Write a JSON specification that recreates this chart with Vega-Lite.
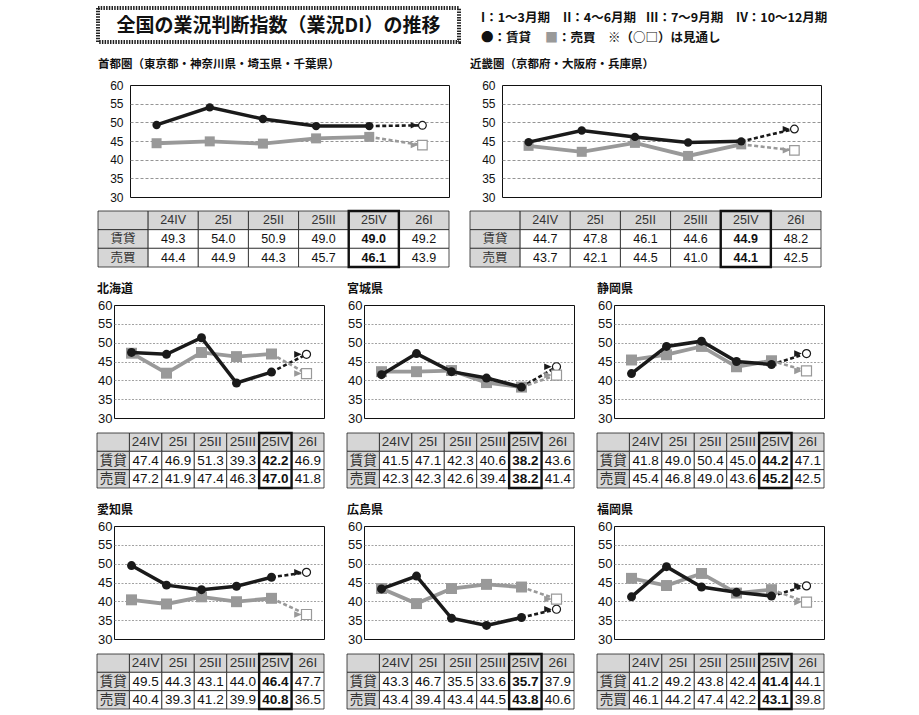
{
"$schema":"https://vega.github.io/schema/vega-lite/v6.json",
"background":"white",
"padding":{"left":60,"top":6,"right":5,"bottom":2},
"config":{"view":{"stroke":"#111","strokeWidth":1},"font":"Noto Sans CJK JP"},
"datasets":{
"d":[
{"r":"首都圏","t":"賃貸","p":"24IV","v":49.3},{"r":"首都圏","t":"賃貸","p":"25I","v":54.0},{"r":"首都圏","t":"賃貸","p":"25II","v":50.9},{"r":"首都圏","t":"賃貸","p":"25III","v":49.0},{"r":"首都圏","t":"賃貸","p":"25IV","v":49.0},{"r":"首都圏","t":"賃貸","p":"26I","v":49.2},
{"r":"首都圏","t":"売買","p":"24IV","v":44.4},{"r":"首都圏","t":"売買","p":"25I","v":44.9},{"r":"首都圏","t":"売買","p":"25II","v":44.3},{"r":"首都圏","t":"売買","p":"25III","v":45.7},{"r":"首都圏","t":"売買","p":"25IV","v":46.1},{"r":"首都圏","t":"売買","p":"26I","v":43.9},
{"r":"近畿圏","t":"賃貸","p":"24IV","v":44.7},{"r":"近畿圏","t":"賃貸","p":"25I","v":47.8},{"r":"近畿圏","t":"賃貸","p":"25II","v":46.1},{"r":"近畿圏","t":"賃貸","p":"25III","v":44.6},{"r":"近畿圏","t":"賃貸","p":"25IV","v":44.9},{"r":"近畿圏","t":"賃貸","p":"26I","v":48.2},
{"r":"近畿圏","t":"売買","p":"24IV","v":43.7},{"r":"近畿圏","t":"売買","p":"25I","v":42.1},{"r":"近畿圏","t":"売買","p":"25II","v":44.5},{"r":"近畿圏","t":"売買","p":"25III","v":41.0},{"r":"近畿圏","t":"売買","p":"25IV","v":44.1},{"r":"近畿圏","t":"売買","p":"26I","v":42.5},
{"r":"北海道","t":"賃貸","p":"24IV","v":47.4},{"r":"北海道","t":"賃貸","p":"25I","v":46.9},{"r":"北海道","t":"賃貸","p":"25II","v":51.3},{"r":"北海道","t":"賃貸","p":"25III","v":39.3},{"r":"北海道","t":"賃貸","p":"25IV","v":42.2},{"r":"北海道","t":"賃貸","p":"26I","v":46.9},
{"r":"北海道","t":"売買","p":"24IV","v":47.2},{"r":"北海道","t":"売買","p":"25I","v":41.9},{"r":"北海道","t":"売買","p":"25II","v":47.4},{"r":"北海道","t":"売買","p":"25III","v":46.3},{"r":"北海道","t":"売買","p":"25IV","v":47.0},{"r":"北海道","t":"売買","p":"26I","v":41.8},
{"r":"宮城県","t":"賃貸","p":"24IV","v":41.5},{"r":"宮城県","t":"賃貸","p":"25I","v":47.1},{"r":"宮城県","t":"賃貸","p":"25II","v":42.3},{"r":"宮城県","t":"賃貸","p":"25III","v":40.6},{"r":"宮城県","t":"賃貸","p":"25IV","v":38.2},{"r":"宮城県","t":"賃貸","p":"26I","v":43.6},
{"r":"宮城県","t":"売買","p":"24IV","v":42.3},{"r":"宮城県","t":"売買","p":"25I","v":42.3},{"r":"宮城県","t":"売買","p":"25II","v":42.6},{"r":"宮城県","t":"売買","p":"25III","v":39.4},{"r":"宮城県","t":"売買","p":"25IV","v":38.2},{"r":"宮城県","t":"売買","p":"26I","v":41.4},
{"r":"静岡県","t":"賃貸","p":"24IV","v":41.8},{"r":"静岡県","t":"賃貸","p":"25I","v":49.0},{"r":"静岡県","t":"賃貸","p":"25II","v":50.4},{"r":"静岡県","t":"賃貸","p":"25III","v":45.0},{"r":"静岡県","t":"賃貸","p":"25IV","v":44.2},{"r":"静岡県","t":"賃貸","p":"26I","v":47.1},
{"r":"静岡県","t":"売買","p":"24IV","v":45.4},{"r":"静岡県","t":"売買","p":"25I","v":46.8},{"r":"静岡県","t":"売買","p":"25II","v":49.0},{"r":"静岡県","t":"売買","p":"25III","v":43.6},{"r":"静岡県","t":"売買","p":"25IV","v":45.2},{"r":"静岡県","t":"売買","p":"26I","v":42.5},
{"r":"愛知県","t":"賃貸","p":"24IV","v":49.5},{"r":"愛知県","t":"賃貸","p":"25I","v":44.3},{"r":"愛知県","t":"賃貸","p":"25II","v":43.1},{"r":"愛知県","t":"賃貸","p":"25III","v":44.0},{"r":"愛知県","t":"賃貸","p":"25IV","v":46.4},{"r":"愛知県","t":"賃貸","p":"26I","v":47.7},
{"r":"愛知県","t":"売買","p":"24IV","v":40.4},{"r":"愛知県","t":"売買","p":"25I","v":39.3},{"r":"愛知県","t":"売買","p":"25II","v":41.2},{"r":"愛知県","t":"売買","p":"25III","v":39.9},{"r":"愛知県","t":"売買","p":"25IV","v":40.8},{"r":"愛知県","t":"売買","p":"26I","v":36.5},
{"r":"広島県","t":"賃貸","p":"24IV","v":43.3},{"r":"広島県","t":"賃貸","p":"25I","v":46.7},{"r":"広島県","t":"賃貸","p":"25II","v":35.5},{"r":"広島県","t":"賃貸","p":"25III","v":33.6},{"r":"広島県","t":"賃貸","p":"25IV","v":35.7},{"r":"広島県","t":"賃貸","p":"26I","v":37.9},
{"r":"広島県","t":"売買","p":"24IV","v":43.4},{"r":"広島県","t":"売買","p":"25I","v":39.4},{"r":"広島県","t":"売買","p":"25II","v":43.4},{"r":"広島県","t":"売買","p":"25III","v":44.5},{"r":"広島県","t":"売買","p":"25IV","v":43.8},{"r":"広島県","t":"売買","p":"26I","v":40.6},
{"r":"福岡県","t":"賃貸","p":"24IV","v":41.2},{"r":"福岡県","t":"賃貸","p":"25I","v":49.2},{"r":"福岡県","t":"賃貸","p":"25II","v":43.8},{"r":"福岡県","t":"賃貸","p":"25III","v":42.4},{"r":"福岡県","t":"賃貸","p":"25IV","v":41.4},{"r":"福岡県","t":"賃貸","p":"26I","v":44.1},
{"r":"福岡県","t":"売買","p":"24IV","v":46.1},{"r":"福岡県","t":"売買","p":"25I","v":44.2},{"r":"福岡県","t":"売買","p":"25II","v":47.4},{"r":"福岡県","t":"売買","p":"25III","v":42.2},{"r":"福岡県","t":"売買","p":"25IV","v":43.1},{"r":"福岡県","t":"売買","p":"26I","v":39.8}
],
"h":[{"c":"h","w":"h","lab":""},{"c":"24IV","w":"h","lab":"24IV"},{"c":"25I","w":"h","lab":"25I"},{"c":"25II","w":"h","lab":"25II"},{"c":"25III","w":"h","lab":"25III"},{"c":"25IV","w":"h","lab":"25IV"},{"c":"26I","w":"h","lab":"26I"},{"c":"h","w":"賃貸","lab":"賃貸"},{"c":"h","w":"売買","lab":"売買"}],
"e":[]
},
"spacing":10,
"vconcat":[
{"spacing":35,"hconcat":[
 {"width":1,"height":1,"view":{"stroke":null},"data":{"name":"e"},"mark":{"type":"point","opacity":0}},
 {"spacing":20,"hconcat":[
 {"width":361,"height":34,"view":{"stroke":"#222","strokeWidth":4,"strokeDash":[1.5,1.2]},
  "data":{"values":[{"s":"全国の業況判断指数（業況DI）の推移"}]},
  "mark":{"type":"text","font":"Noto Sans CJK JP","fontSize":19,"fontWeight":"bold","color":"#111","baseline":"middle","dy":1},
  "encoding":{"text":{"field":"s"}}},
 {"width":350,"height":40,"view":{"stroke":null},
  "data":{"values":[{"k":"p1","ln":1,"s":"I：1～3月期"},{"k":"p2","ln":1,"s":"II：4～6月期"},{"k":"p3","ln":1,"s":"III：7～9月期"},{"k":"p4","ln":1,"s":"IV：10～12月期"},{"k":"a","ln":2,"s":"●：賃貸"},{"k":"b","ln":2,"s":"■"},{"k":"c","ln":2,"s":"：売買　※（○□）は見通し"}]},
  "encoding":{"y":{"field":"ln","type":"ordinal","scale":{"type":"band","domain":[1,2],"paddingInner":0,"paddingOuter":0},"axis":null},"text":{"field":"s"}},
  "layer":[
   {"transform":[{"filter":{"field":"k","oneOf":["p1","a"]}}],"mark":{"type":"text","align":"left","x":0,"dx":0,"font":"Noto Sans CJK JP","fontSize":12.5,"fontWeight":"bold","color":"#111"}},
   {"transform":[{"filter":{"field":"k","equal":"p2"}}],"mark":{"type":"text","align":"left","x":0,"dx":82,"font":"Noto Sans CJK JP","fontSize":12.5,"fontWeight":"bold","color":"#111"}},
   {"transform":[{"filter":{"field":"k","equal":"p3"}}],"mark":{"type":"text","align":"left","x":0,"dx":165,"font":"Noto Sans CJK JP","fontSize":12.5,"fontWeight":"bold","color":"#111"}},
   {"transform":[{"filter":{"field":"k","equal":"p4"}}],"mark":{"type":"text","align":"left","x":0,"dx":255,"font":"Noto Sans CJK JP","fontSize":12.5,"fontWeight":"bold","color":"#111"}},
   {"transform":[{"filter":{"field":"k","equal":"b"}}],"mark":{"type":"text","align":"left","x":0,"dx":64,"font":"Noto Sans CJK JP","fontSize":13,"fontWeight":"bold","color":"#999999"}},
   {"transform":[{"filter":{"field":"k","equal":"c"}}],"mark":{"type":"text","align":"left","x":0,"dx":77,"font":"Noto Sans CJK JP","fontSize":12.5,"fontWeight":"bold","color":"#111"}}
  ]}
 ]}
]},
{"spacing":13,"vconcat":[
{"spacing":36,"hconcat":[
 {"width":1,"height":1,"view":{"stroke":null},"data":{"name":"e"},"mark":{"type":"point","opacity":0}},
 {"spacing":19,"hconcat":[
 {"spacing":5,"vconcat":[
  {"title":{"text":"首都圏（東京都・神奈川県・埼玉県・千葉県）","anchor":"start","font":"Noto Sans CJK JP","fontSize":11.5,"fontWeight":"bold","color":"#111","offset":9},
   "width":319,"height":112,"data":{"name":"d"},"transform":[{"filter":{"field":"r","equal":"首都圏"}}],
   "encoding":{"x":{"field":"p","type":"ordinal","scale":{"type":"point","domain":["24IV","25I","25II","25III","25IV","26I"],"padding":0.5},"axis":null},
    "y":{"field":"v","type":"quantitative","scale":{"domain":[30,60],"nice":false,"zero":false},"axis":{"values":[30,35,40,45,50,55,60],"grid":true,"gridColor":"#7a7a7a","gridDash":[3,2],"gridWidth":0.8,"gridOpacity":{"condition":{"test":"datum.value===30||datum.value===60","value":0},"value":1},"domain":false,"ticks":false,"labelPadding":7,"labelFontSize":12,"labelFont":"Liberation Sans","labelColor":"#111","labelOverlap":false,"labelFlush":false,"minExtent":32,"maxExtent":32,"title":null}},
    "color":{"field":"t","type":"nominal","scale":{"domain":["賃貸","売買"],"range":["#1a1a1a","#999999"]},"legend":null}},
   "layer":[
    {"transform":[{"filter":{"field":"p","oneOf":["25IV","26I"]}}],"mark":{"type":"line","strokeWidth":2.6,"strokeDash":[4,2.5]}},
    {"transform":[{"filter":{"and":[{"field":"p","equal":"26I"},{"field":"t","equal":"賃貸"}]}}],"mark":{"type":"point","shape":"circle","size":60,"filled":false,"fill":"white","opacity":1,"strokeWidth":1.2}},
    {"transform":[{"filter":{"and":[{"field":"p","equal":"26I"},{"field":"t","equal":"売買"}]}}],"mark":{"type":"point","shape":"square","size":90,"filled":false,"fill":"white","opacity":1,"strokeWidth":1.2}},
    {"transform":[{"filter":{"field":"p","equal":"26I"}}],"mark":{"type":"point","shape":"M-1,0L-2.6,-0.7L-2.6,0.7Z","size":81,"filled":true,"opacity":1}},
    {"transform":[{"filter":{"and":[{"field":"t","equal":"売買"},{"field":"p","oneOf":["24IV","25I","25II","25III","25IV"]}]}}],"mark":{"type":"line","strokeWidth":3.8}},
    {"transform":[{"filter":{"and":[{"field":"t","equal":"売買"},{"field":"p","oneOf":["24IV","25I","25II","25III","25IV"]}]}}],"mark":{"type":"point","shape":"square","size":100,"filled":true,"opacity":1}},
    {"transform":[{"filter":{"and":[{"field":"t","equal":"賃貸"},{"field":"p","oneOf":["24IV","25I","25II","25III","25IV"]}]}}],"mark":{"type":"line","strokeWidth":3.5}},
    {"transform":[{"filter":{"and":[{"field":"t","equal":"賃貸"},{"field":"p","oneOf":["24IV","25I","25II","25III","25IV"]}]}}],"mark":{"type":"point","shape":"circle","size":70,"filled":true,"opacity":1}}
   ]},
  {"width":319,"height":56,"view":{"stroke":null},
   "layer":[
    {"data":{"name":"h"},"mark":{"type":"rect","fill":"#d6d6d6","stroke":"#222","strokeWidth":0.8},"encoding":{"x":{"field":"c","type":"nominal","scale":{"type":"band","domain":["h","24IV","25I","25II","25III","25IV","26I"],"range":[-32,319],"paddingInner":0,"paddingOuter":0},"axis":null},"y":{"field":"w","type":"nominal","scale":{"type":"band","domain":["h","賃貸","売買"],"paddingInner":0,"paddingOuter":0},"axis":null}}},
    {"data":{"name":"h"},"mark":{"type":"text","font":"'Liberation Sans', 'Noto Sans CJK JP', sans-serif","fontSize":12.5,"color":"#333"},"encoding":{"x":{"field":"c","type":"nominal","axis":null},"y":{"field":"w","type":"nominal","axis":null},"text":{"field":"lab"}}},
    {"data":{"name":"d"},"transform":[{"filter":{"field":"r","equal":"首都圏"}}],"mark":{"type":"rect","fill":"white","stroke":"#222","strokeWidth":0.8},"encoding":{"x":{"field":"p","type":"nominal","axis":null},"y":{"field":"t","type":"nominal","axis":null}}},
    {"data":{"name":"d"},"transform":[{"filter":{"and":[{"field":"r","equal":"首都圏"},{"not":{"field":"p","equal":"25IV"}}]}}],"mark":{"type":"text","font":"Liberation Sans","fontSize":12.5,"color":"#111"},"encoding":{"x":{"field":"p","type":"nominal","axis":null},"y":{"field":"t","type":"nominal","axis":null},"text":{"field":"v","type":"quantitative","format":".1f"}}},
    {"data":{"name":"d"},"transform":[{"filter":{"and":[{"field":"r","equal":"首都圏"},{"field":"p","equal":"25IV"}]}}],"mark":{"type":"text","font":"Liberation Sans","fontSize":12.5,"fontWeight":"bold","color":"#111"},"encoding":{"x":{"field":"p","type":"nominal","axis":null},"y":{"field":"t","type":"nominal","axis":null},"text":{"field":"v","type":"quantitative","format":".1f"}}},
    {"data":{"name":"h"},"transform":[{"filter":{"field":"c","equal":"25IV"}}],"mark":{"type":"rect","fill":"white","fillOpacity":0,"stroke":"#111","strokeWidth":2.4},"encoding":{"x":{"field":"c","type":"nominal","axis":null}}}
   ]}
 ]},
 {"spacing":5,"vconcat":[
  {"title":{"text":"近畿圏（京都府・大阪府・兵庫県）","anchor":"start","font":"Noto Sans CJK JP","fontSize":11.5,"fontWeight":"bold","color":"#111","offset":9},
   "width":319,"height":112,"data":{"name":"d"},"transform":[{"filter":{"field":"r","equal":"近畿圏"}}],
   "encoding":{"x":{"field":"p","type":"ordinal","scale":{"type":"point","domain":["24IV","25I","25II","25III","25IV","26I"],"padding":0.5},"axis":null},
    "y":{"field":"v","type":"quantitative","scale":{"domain":[30,60],"nice":false,"zero":false},"axis":{"values":[30,35,40,45,50,55,60],"grid":true,"gridColor":"#7a7a7a","gridDash":[3,2],"gridWidth":0.8,"gridOpacity":{"condition":{"test":"datum.value===30||datum.value===60","value":0},"value":1},"domain":false,"ticks":false,"labelPadding":7,"labelFontSize":12,"labelFont":"Liberation Sans","labelColor":"#111","labelOverlap":false,"labelFlush":false,"minExtent":32,"maxExtent":32,"title":null}},
    "color":{"field":"t","type":"nominal","scale":{"domain":["賃貸","売買"],"range":["#1a1a1a","#999999"]},"legend":null}},
   "layer":[
    {"transform":[{"filter":{"field":"p","oneOf":["25IV","26I"]}}],"mark":{"type":"line","strokeWidth":2.6,"strokeDash":[4,2.5]}},
    {"transform":[{"filter":{"and":[{"field":"p","equal":"26I"},{"field":"t","equal":"賃貸"}]}}],"mark":{"type":"point","shape":"circle","size":60,"filled":false,"fill":"white","opacity":1,"strokeWidth":1.2}},
    {"transform":[{"filter":{"and":[{"field":"p","equal":"26I"},{"field":"t","equal":"売買"}]}}],"mark":{"type":"point","shape":"square","size":90,"filled":false,"fill":"white","opacity":1,"strokeWidth":1.2}},
    {"transform":[{"filter":{"field":"p","equal":"26I"}}],"mark":{"type":"point","shape":"M-1,0L-2.6,-0.7L-2.6,0.7Z","size":81,"filled":true,"opacity":1}},
    {"transform":[{"filter":{"and":[{"field":"t","equal":"売買"},{"field":"p","oneOf":["24IV","25I","25II","25III","25IV"]}]}}],"mark":{"type":"line","strokeWidth":3.8}},
    {"transform":[{"filter":{"and":[{"field":"t","equal":"売買"},{"field":"p","oneOf":["24IV","25I","25II","25III","25IV"]}]}}],"mark":{"type":"point","shape":"square","size":100,"filled":true,"opacity":1}},
    {"transform":[{"filter":{"and":[{"field":"t","equal":"賃貸"},{"field":"p","oneOf":["24IV","25I","25II","25III","25IV"]}]}}],"mark":{"type":"line","strokeWidth":3.5}},
    {"transform":[{"filter":{"and":[{"field":"t","equal":"賃貸"},{"field":"p","oneOf":["24IV","25I","25II","25III","25IV"]}]}}],"mark":{"type":"point","shape":"circle","size":70,"filled":true,"opacity":1}}
   ]},
  {"width":319,"height":56,"view":{"stroke":null},
   "layer":[
    {"data":{"name":"h"},"mark":{"type":"rect","fill":"#d6d6d6","stroke":"#222","strokeWidth":0.8},"encoding":{"x":{"field":"c","type":"nominal","scale":{"type":"band","domain":["h","24IV","25I","25II","25III","25IV","26I"],"range":[-32,319],"paddingInner":0,"paddingOuter":0},"axis":null},"y":{"field":"w","type":"nominal","scale":{"type":"band","domain":["h","賃貸","売買"],"paddingInner":0,"paddingOuter":0},"axis":null}}},
    {"data":{"name":"h"},"mark":{"type":"text","font":"'Liberation Sans', 'Noto Sans CJK JP', sans-serif","fontSize":12.5,"color":"#333"},"encoding":{"x":{"field":"c","type":"nominal","axis":null},"y":{"field":"w","type":"nominal","axis":null},"text":{"field":"lab"}}},
    {"data":{"name":"d"},"transform":[{"filter":{"field":"r","equal":"近畿圏"}}],"mark":{"type":"rect","fill":"white","stroke":"#222","strokeWidth":0.8},"encoding":{"x":{"field":"p","type":"nominal","axis":null},"y":{"field":"t","type":"nominal","axis":null}}},
    {"data":{"name":"d"},"transform":[{"filter":{"and":[{"field":"r","equal":"近畿圏"},{"not":{"field":"p","equal":"25IV"}}]}}],"mark":{"type":"text","font":"Liberation Sans","fontSize":12.5,"color":"#111"},"encoding":{"x":{"field":"p","type":"nominal","axis":null},"y":{"field":"t","type":"nominal","axis":null},"text":{"field":"v","type":"quantitative","format":".1f"}}},
    {"data":{"name":"d"},"transform":[{"filter":{"and":[{"field":"r","equal":"近畿圏"},{"field":"p","equal":"25IV"}]}}],"mark":{"type":"text","font":"Liberation Sans","fontSize":12.5,"fontWeight":"bold","color":"#111"},"encoding":{"x":{"field":"p","type":"nominal","axis":null},"y":{"field":"t","type":"nominal","axis":null},"text":{"field":"v","type":"quantitative","format":".1f"}}},
    {"data":{"name":"h"},"transform":[{"filter":{"field":"c","equal":"25IV"}}],"mark":{"type":"rect","fill":"white","fillOpacity":0,"stroke":"#111","strokeWidth":2.4},"encoding":{"x":{"field":"c","type":"nominal","axis":null}}}
   ]}
 ]}
 ]}
]},
{"spacing":35,"hconcat":[
 {"width":1,"height":1,"view":{"stroke":null},"data":{"name":"e"},"mark":{"type":"point","opacity":0}},
 {"spacing":21,"hconcat":[
 {"spacing":5,"vconcat":[
  {"title":{"text":"北海道","anchor":"start","font":"Noto Sans CJK JP","fontSize":12,"fontWeight":"bold","color":"#111","offset":3},
   "width":210,"height":113,"data":{"name":"d"},"transform":[{"filter":{"field":"r","equal":"北海道"}}],
   "encoding":{"x":{"field":"p","type":"ordinal","scale":{"type":"point","domain":["24IV","25I","25II","25III","25IV","26I"],"padding":0.5},"axis":null},
    "y":{"field":"v","type":"quantitative","scale":{"domain":[30,60],"nice":false,"zero":false},"axis":{"values":[30,35,40,45,50,55,60],"grid":true,"gridColor":"#8a8a8a","gridDash":[2,1.5],"gridWidth":0.8,"gridOpacity":{"condition":{"test":"datum.value===30||datum.value===60","value":0},"value":1},"domain":false,"ticks":false,"labelPadding":2,"labelFontSize":13,"labelFont":"Liberation Sans","labelColor":"#111","labelOverlap":false,"labelFlush":false,"minExtent":17,"maxExtent":17,"title":null}},
    "color":{"field":"t","type":"nominal","scale":{"domain":["賃貸","売買"],"range":["#1a1a1a","#999999"]},"legend":null}},
   "layer":[
    {"transform":[{"filter":{"field":"p","oneOf":["25IV","26I"]}}],"mark":{"type":"line","strokeWidth":2.6,"strokeDash":[4,2.5]}},
    {"transform":[{"filter":{"and":[{"field":"p","equal":"26I"},{"field":"t","equal":"賃貸"}]}}],"mark":{"type":"point","shape":"circle","size":65,"filled":false,"fill":"white","opacity":1,"strokeWidth":1.2}},
    {"transform":[{"filter":{"and":[{"field":"p","equal":"26I"},{"field":"t","equal":"売買"}]}}],"mark":{"type":"point","shape":"square","size":100,"filled":false,"fill":"white","opacity":1,"strokeWidth":1.2}},
    {"transform":[{"filter":{"field":"p","equal":"26I"}}],"mark":{"type":"point","shape":"M-1,0L-2.6,-0.7L-2.6,0.7Z","size":90,"filled":true,"opacity":1}},
    {"transform":[{"filter":{"and":[{"field":"t","equal":"売買"},{"field":"p","oneOf":["24IV","25I","25II","25III","25IV"]}]}}],"mark":{"type":"line","strokeWidth":3.8}},
    {"transform":[{"filter":{"and":[{"field":"t","equal":"売買"},{"field":"p","oneOf":["24IV","25I","25II","25III","25IV"]}]}}],"mark":{"type":"point","shape":"square","size":120,"filled":true,"opacity":1}},
    {"transform":[{"filter":{"and":[{"field":"t","equal":"賃貸"},{"field":"p","oneOf":["24IV","25I","25II","25III","25IV"]}]}}],"mark":{"type":"line","strokeWidth":3.5}},
    {"transform":[{"filter":{"and":[{"field":"t","equal":"賃貸"},{"field":"p","oneOf":["24IV","25I","25II","25III","25IV"]}]}}],"mark":{"type":"point","shape":"circle","size":80,"filled":true,"opacity":1}}
   ]},
  {"width":210,"height":55,"view":{"stroke":null},
   "layer":[
    {"data":{"name":"h"},"mark":{"type":"rect","fill":"#d6d6d6","stroke":"#222","strokeWidth":0.8},"encoding":{"x":{"field":"c","type":"nominal","scale":{"type":"band","domain":["h","24IV","25I","25II","25III","25IV","26I"],"range":[-17,210],"paddingInner":0,"paddingOuter":0},"axis":null},"y":{"field":"w","type":"nominal","scale":{"type":"band","domain":["h","賃貸","売買"],"paddingInner":0,"paddingOuter":0},"axis":null}}},
    {"data":{"name":"h"},"mark":{"type":"text","font":"'Liberation Sans', 'Noto Sans CJK JP', sans-serif","fontSize":13.5,"color":"#333"},"encoding":{"x":{"field":"c","type":"nominal","axis":null},"y":{"field":"w","type":"nominal","axis":null},"text":{"field":"lab"}}},
    {"data":{"name":"d"},"transform":[{"filter":{"field":"r","equal":"北海道"}}],"mark":{"type":"rect","fill":"white","stroke":"#222","strokeWidth":0.8},"encoding":{"x":{"field":"p","type":"nominal","axis":null},"y":{"field":"t","type":"nominal","axis":null}}},
    {"data":{"name":"d"},"transform":[{"filter":{"and":[{"field":"r","equal":"北海道"},{"not":{"field":"p","equal":"25IV"}}]}}],"mark":{"type":"text","font":"Liberation Sans","fontSize":13.5,"color":"#111"},"encoding":{"x":{"field":"p","type":"nominal","axis":null},"y":{"field":"t","type":"nominal","axis":null},"text":{"field":"v","type":"quantitative","format":".1f"}}},
    {"data":{"name":"d"},"transform":[{"filter":{"and":[{"field":"r","equal":"北海道"},{"field":"p","equal":"25IV"}]}}],"mark":{"type":"text","font":"Liberation Sans","fontSize":13.5,"fontWeight":"bold","color":"#111"},"encoding":{"x":{"field":"p","type":"nominal","axis":null},"y":{"field":"t","type":"nominal","axis":null},"text":{"field":"v","type":"quantitative","format":".1f"}}},
    {"data":{"name":"h"},"transform":[{"filter":{"field":"c","equal":"25IV"}}],"mark":{"type":"rect","fill":"white","fillOpacity":0,"stroke":"#111","strokeWidth":2.4},"encoding":{"x":{"field":"c","type":"nominal","axis":null}}}
   ]}
 ]},
 {"spacing":5,"vconcat":[
  {"title":{"text":"宮城県","anchor":"start","font":"Noto Sans CJK JP","fontSize":12,"fontWeight":"bold","color":"#111","offset":3},
   "width":210,"height":113,"data":{"name":"d"},"transform":[{"filter":{"field":"r","equal":"宮城県"}}],
   "encoding":{"x":{"field":"p","type":"ordinal","scale":{"type":"point","domain":["24IV","25I","25II","25III","25IV","26I"],"padding":0.5},"axis":null},
    "y":{"field":"v","type":"quantitative","scale":{"domain":[30,60],"nice":false,"zero":false},"axis":{"values":[30,35,40,45,50,55,60],"grid":true,"gridColor":"#8a8a8a","gridDash":[2,1.5],"gridWidth":0.8,"gridOpacity":{"condition":{"test":"datum.value===30||datum.value===60","value":0},"value":1},"domain":false,"ticks":false,"labelPadding":2,"labelFontSize":13,"labelFont":"Liberation Sans","labelColor":"#111","labelOverlap":false,"labelFlush":false,"minExtent":17,"maxExtent":17,"title":null}},
    "color":{"field":"t","type":"nominal","scale":{"domain":["賃貸","売買"],"range":["#1a1a1a","#999999"]},"legend":null}},
   "layer":[
    {"transform":[{"filter":{"field":"p","oneOf":["25IV","26I"]}}],"mark":{"type":"line","strokeWidth":2.6,"strokeDash":[4,2.5]}},
    {"transform":[{"filter":{"and":[{"field":"p","equal":"26I"},{"field":"t","equal":"賃貸"}]}}],"mark":{"type":"point","shape":"circle","size":65,"filled":false,"fill":"white","opacity":1,"strokeWidth":1.2}},
    {"transform":[{"filter":{"and":[{"field":"p","equal":"26I"},{"field":"t","equal":"売買"}]}}],"mark":{"type":"point","shape":"square","size":100,"filled":false,"fill":"white","opacity":1,"strokeWidth":1.2}},
    {"transform":[{"filter":{"field":"p","equal":"26I"}}],"mark":{"type":"point","shape":"M-1,0L-2.6,-0.7L-2.6,0.7Z","size":90,"filled":true,"opacity":1}},
    {"transform":[{"filter":{"and":[{"field":"t","equal":"売買"},{"field":"p","oneOf":["24IV","25I","25II","25III","25IV"]}]}}],"mark":{"type":"line","strokeWidth":3.8}},
    {"transform":[{"filter":{"and":[{"field":"t","equal":"売買"},{"field":"p","oneOf":["24IV","25I","25II","25III","25IV"]}]}}],"mark":{"type":"point","shape":"square","size":120,"filled":true,"opacity":1}},
    {"transform":[{"filter":{"and":[{"field":"t","equal":"賃貸"},{"field":"p","oneOf":["24IV","25I","25II","25III","25IV"]}]}}],"mark":{"type":"line","strokeWidth":3.5}},
    {"transform":[{"filter":{"and":[{"field":"t","equal":"賃貸"},{"field":"p","oneOf":["24IV","25I","25II","25III","25IV"]}]}}],"mark":{"type":"point","shape":"circle","size":80,"filled":true,"opacity":1}}
   ]},
  {"width":210,"height":55,"view":{"stroke":null},
   "layer":[
    {"data":{"name":"h"},"mark":{"type":"rect","fill":"#d6d6d6","stroke":"#222","strokeWidth":0.8},"encoding":{"x":{"field":"c","type":"nominal","scale":{"type":"band","domain":["h","24IV","25I","25II","25III","25IV","26I"],"range":[-17,210],"paddingInner":0,"paddingOuter":0},"axis":null},"y":{"field":"w","type":"nominal","scale":{"type":"band","domain":["h","賃貸","売買"],"paddingInner":0,"paddingOuter":0},"axis":null}}},
    {"data":{"name":"h"},"mark":{"type":"text","font":"'Liberation Sans', 'Noto Sans CJK JP', sans-serif","fontSize":13.5,"color":"#333"},"encoding":{"x":{"field":"c","type":"nominal","axis":null},"y":{"field":"w","type":"nominal","axis":null},"text":{"field":"lab"}}},
    {"data":{"name":"d"},"transform":[{"filter":{"field":"r","equal":"宮城県"}}],"mark":{"type":"rect","fill":"white","stroke":"#222","strokeWidth":0.8},"encoding":{"x":{"field":"p","type":"nominal","axis":null},"y":{"field":"t","type":"nominal","axis":null}}},
    {"data":{"name":"d"},"transform":[{"filter":{"and":[{"field":"r","equal":"宮城県"},{"not":{"field":"p","equal":"25IV"}}]}}],"mark":{"type":"text","font":"Liberation Sans","fontSize":13.5,"color":"#111"},"encoding":{"x":{"field":"p","type":"nominal","axis":null},"y":{"field":"t","type":"nominal","axis":null},"text":{"field":"v","type":"quantitative","format":".1f"}}},
    {"data":{"name":"d"},"transform":[{"filter":{"and":[{"field":"r","equal":"宮城県"},{"field":"p","equal":"25IV"}]}}],"mark":{"type":"text","font":"Liberation Sans","fontSize":13.5,"fontWeight":"bold","color":"#111"},"encoding":{"x":{"field":"p","type":"nominal","axis":null},"y":{"field":"t","type":"nominal","axis":null},"text":{"field":"v","type":"quantitative","format":".1f"}}},
    {"data":{"name":"h"},"transform":[{"filter":{"field":"c","equal":"25IV"}}],"mark":{"type":"rect","fill":"white","fillOpacity":0,"stroke":"#111","strokeWidth":2.4},"encoding":{"x":{"field":"c","type":"nominal","axis":null}}}
   ]}
 ]},
 {"spacing":5,"vconcat":[
  {"title":{"text":"静岡県","anchor":"start","font":"Noto Sans CJK JP","fontSize":12,"fontWeight":"bold","color":"#111","offset":3},
   "width":210,"height":113,"data":{"name":"d"},"transform":[{"filter":{"field":"r","equal":"静岡県"}}],
   "encoding":{"x":{"field":"p","type":"ordinal","scale":{"type":"point","domain":["24IV","25I","25II","25III","25IV","26I"],"padding":0.5},"axis":null},
    "y":{"field":"v","type":"quantitative","scale":{"domain":[30,60],"nice":false,"zero":false},"axis":{"values":[30,35,40,45,50,55,60],"grid":true,"gridColor":"#8a8a8a","gridDash":[2,1.5],"gridWidth":0.8,"gridOpacity":{"condition":{"test":"datum.value===30||datum.value===60","value":0},"value":1},"domain":false,"ticks":false,"labelPadding":2,"labelFontSize":13,"labelFont":"Liberation Sans","labelColor":"#111","labelOverlap":false,"labelFlush":false,"minExtent":17,"maxExtent":17,"title":null}},
    "color":{"field":"t","type":"nominal","scale":{"domain":["賃貸","売買"],"range":["#1a1a1a","#999999"]},"legend":null}},
   "layer":[
    {"transform":[{"filter":{"field":"p","oneOf":["25IV","26I"]}}],"mark":{"type":"line","strokeWidth":2.6,"strokeDash":[4,2.5]}},
    {"transform":[{"filter":{"and":[{"field":"p","equal":"26I"},{"field":"t","equal":"賃貸"}]}}],"mark":{"type":"point","shape":"circle","size":65,"filled":false,"fill":"white","opacity":1,"strokeWidth":1.2}},
    {"transform":[{"filter":{"and":[{"field":"p","equal":"26I"},{"field":"t","equal":"売買"}]}}],"mark":{"type":"point","shape":"square","size":100,"filled":false,"fill":"white","opacity":1,"strokeWidth":1.2}},
    {"transform":[{"filter":{"field":"p","equal":"26I"}}],"mark":{"type":"point","shape":"M-1,0L-2.6,-0.7L-2.6,0.7Z","size":90,"filled":true,"opacity":1}},
    {"transform":[{"filter":{"and":[{"field":"t","equal":"売買"},{"field":"p","oneOf":["24IV","25I","25II","25III","25IV"]}]}}],"mark":{"type":"line","strokeWidth":3.8}},
    {"transform":[{"filter":{"and":[{"field":"t","equal":"売買"},{"field":"p","oneOf":["24IV","25I","25II","25III","25IV"]}]}}],"mark":{"type":"point","shape":"square","size":120,"filled":true,"opacity":1}},
    {"transform":[{"filter":{"and":[{"field":"t","equal":"賃貸"},{"field":"p","oneOf":["24IV","25I","25II","25III","25IV"]}]}}],"mark":{"type":"line","strokeWidth":3.5}},
    {"transform":[{"filter":{"and":[{"field":"t","equal":"賃貸"},{"field":"p","oneOf":["24IV","25I","25II","25III","25IV"]}]}}],"mark":{"type":"point","shape":"circle","size":80,"filled":true,"opacity":1}}
   ]},
  {"width":210,"height":55,"view":{"stroke":null},
   "layer":[
    {"data":{"name":"h"},"mark":{"type":"rect","fill":"#d6d6d6","stroke":"#222","strokeWidth":0.8},"encoding":{"x":{"field":"c","type":"nominal","scale":{"type":"band","domain":["h","24IV","25I","25II","25III","25IV","26I"],"range":[-17,210],"paddingInner":0,"paddingOuter":0},"axis":null},"y":{"field":"w","type":"nominal","scale":{"type":"band","domain":["h","賃貸","売買"],"paddingInner":0,"paddingOuter":0},"axis":null}}},
    {"data":{"name":"h"},"mark":{"type":"text","font":"'Liberation Sans', 'Noto Sans CJK JP', sans-serif","fontSize":13.5,"color":"#333"},"encoding":{"x":{"field":"c","type":"nominal","axis":null},"y":{"field":"w","type":"nominal","axis":null},"text":{"field":"lab"}}},
    {"data":{"name":"d"},"transform":[{"filter":{"field":"r","equal":"静岡県"}}],"mark":{"type":"rect","fill":"white","stroke":"#222","strokeWidth":0.8},"encoding":{"x":{"field":"p","type":"nominal","axis":null},"y":{"field":"t","type":"nominal","axis":null}}},
    {"data":{"name":"d"},"transform":[{"filter":{"and":[{"field":"r","equal":"静岡県"},{"not":{"field":"p","equal":"25IV"}}]}}],"mark":{"type":"text","font":"Liberation Sans","fontSize":13.5,"color":"#111"},"encoding":{"x":{"field":"p","type":"nominal","axis":null},"y":{"field":"t","type":"nominal","axis":null},"text":{"field":"v","type":"quantitative","format":".1f"}}},
    {"data":{"name":"d"},"transform":[{"filter":{"and":[{"field":"r","equal":"静岡県"},{"field":"p","equal":"25IV"}]}}],"mark":{"type":"text","font":"Liberation Sans","fontSize":13.5,"fontWeight":"bold","color":"#111"},"encoding":{"x":{"field":"p","type":"nominal","axis":null},"y":{"field":"t","type":"nominal","axis":null},"text":{"field":"v","type":"quantitative","format":".1f"}}},
    {"data":{"name":"h"},"transform":[{"filter":{"field":"c","equal":"25IV"}}],"mark":{"type":"rect","fill":"white","fillOpacity":0,"stroke":"#111","strokeWidth":2.4},"encoding":{"x":{"field":"c","type":"nominal","axis":null}}}
   ]}
 ]}
 ]}
]},
{"spacing":35,"hconcat":[
 {"width":1,"height":1,"view":{"stroke":null},"data":{"name":"e"},"mark":{"type":"point","opacity":0}},
 {"spacing":21,"hconcat":[
 {"spacing":5,"vconcat":[
  {"title":{"text":"愛知県","anchor":"start","font":"Noto Sans CJK JP","fontSize":12,"fontWeight":"bold","color":"#111","offset":3},
   "width":210,"height":113,"data":{"name":"d"},"transform":[{"filter":{"field":"r","equal":"愛知県"}}],
   "encoding":{"x":{"field":"p","type":"ordinal","scale":{"type":"point","domain":["24IV","25I","25II","25III","25IV","26I"],"padding":0.5},"axis":null},
    "y":{"field":"v","type":"quantitative","scale":{"domain":[30,60],"nice":false,"zero":false},"axis":{"values":[30,35,40,45,50,55,60],"grid":true,"gridColor":"#8a8a8a","gridDash":[2,1.5],"gridWidth":0.8,"gridOpacity":{"condition":{"test":"datum.value===30||datum.value===60","value":0},"value":1},"domain":false,"ticks":false,"labelPadding":2,"labelFontSize":13,"labelFont":"Liberation Sans","labelColor":"#111","labelOverlap":false,"labelFlush":false,"minExtent":17,"maxExtent":17,"title":null}},
    "color":{"field":"t","type":"nominal","scale":{"domain":["賃貸","売買"],"range":["#1a1a1a","#999999"]},"legend":null}},
   "layer":[
    {"transform":[{"filter":{"field":"p","oneOf":["25IV","26I"]}}],"mark":{"type":"line","strokeWidth":2.6,"strokeDash":[4,2.5]}},
    {"transform":[{"filter":{"and":[{"field":"p","equal":"26I"},{"field":"t","equal":"賃貸"}]}}],"mark":{"type":"point","shape":"circle","size":65,"filled":false,"fill":"white","opacity":1,"strokeWidth":1.2}},
    {"transform":[{"filter":{"and":[{"field":"p","equal":"26I"},{"field":"t","equal":"売買"}]}}],"mark":{"type":"point","shape":"square","size":100,"filled":false,"fill":"white","opacity":1,"strokeWidth":1.2}},
    {"transform":[{"filter":{"field":"p","equal":"26I"}}],"mark":{"type":"point","shape":"M-1,0L-2.6,-0.7L-2.6,0.7Z","size":90,"filled":true,"opacity":1}},
    {"transform":[{"filter":{"and":[{"field":"t","equal":"売買"},{"field":"p","oneOf":["24IV","25I","25II","25III","25IV"]}]}}],"mark":{"type":"line","strokeWidth":3.8}},
    {"transform":[{"filter":{"and":[{"field":"t","equal":"売買"},{"field":"p","oneOf":["24IV","25I","25II","25III","25IV"]}]}}],"mark":{"type":"point","shape":"square","size":120,"filled":true,"opacity":1}},
    {"transform":[{"filter":{"and":[{"field":"t","equal":"賃貸"},{"field":"p","oneOf":["24IV","25I","25II","25III","25IV"]}]}}],"mark":{"type":"line","strokeWidth":3.5}},
    {"transform":[{"filter":{"and":[{"field":"t","equal":"賃貸"},{"field":"p","oneOf":["24IV","25I","25II","25III","25IV"]}]}}],"mark":{"type":"point","shape":"circle","size":80,"filled":true,"opacity":1}}
   ]},
  {"width":210,"height":55,"view":{"stroke":null},
   "layer":[
    {"data":{"name":"h"},"mark":{"type":"rect","fill":"#d6d6d6","stroke":"#222","strokeWidth":0.8},"encoding":{"x":{"field":"c","type":"nominal","scale":{"type":"band","domain":["h","24IV","25I","25II","25III","25IV","26I"],"range":[-17,210],"paddingInner":0,"paddingOuter":0},"axis":null},"y":{"field":"w","type":"nominal","scale":{"type":"band","domain":["h","賃貸","売買"],"paddingInner":0,"paddingOuter":0},"axis":null}}},
    {"data":{"name":"h"},"mark":{"type":"text","font":"'Liberation Sans', 'Noto Sans CJK JP', sans-serif","fontSize":13.5,"color":"#333"},"encoding":{"x":{"field":"c","type":"nominal","axis":null},"y":{"field":"w","type":"nominal","axis":null},"text":{"field":"lab"}}},
    {"data":{"name":"d"},"transform":[{"filter":{"field":"r","equal":"愛知県"}}],"mark":{"type":"rect","fill":"white","stroke":"#222","strokeWidth":0.8},"encoding":{"x":{"field":"p","type":"nominal","axis":null},"y":{"field":"t","type":"nominal","axis":null}}},
    {"data":{"name":"d"},"transform":[{"filter":{"and":[{"field":"r","equal":"愛知県"},{"not":{"field":"p","equal":"25IV"}}]}}],"mark":{"type":"text","font":"Liberation Sans","fontSize":13.5,"color":"#111"},"encoding":{"x":{"field":"p","type":"nominal","axis":null},"y":{"field":"t","type":"nominal","axis":null},"text":{"field":"v","type":"quantitative","format":".1f"}}},
    {"data":{"name":"d"},"transform":[{"filter":{"and":[{"field":"r","equal":"愛知県"},{"field":"p","equal":"25IV"}]}}],"mark":{"type":"text","font":"Liberation Sans","fontSize":13.5,"fontWeight":"bold","color":"#111"},"encoding":{"x":{"field":"p","type":"nominal","axis":null},"y":{"field":"t","type":"nominal","axis":null},"text":{"field":"v","type":"quantitative","format":".1f"}}},
    {"data":{"name":"h"},"transform":[{"filter":{"field":"c","equal":"25IV"}}],"mark":{"type":"rect","fill":"white","fillOpacity":0,"stroke":"#111","strokeWidth":2.4},"encoding":{"x":{"field":"c","type":"nominal","axis":null}}}
   ]}
 ]},
 {"spacing":5,"vconcat":[
  {"title":{"text":"広島県","anchor":"start","font":"Noto Sans CJK JP","fontSize":12,"fontWeight":"bold","color":"#111","offset":3},
   "width":210,"height":113,"data":{"name":"d"},"transform":[{"filter":{"field":"r","equal":"広島県"}}],
   "encoding":{"x":{"field":"p","type":"ordinal","scale":{"type":"point","domain":["24IV","25I","25II","25III","25IV","26I"],"padding":0.5},"axis":null},
    "y":{"field":"v","type":"quantitative","scale":{"domain":[30,60],"nice":false,"zero":false},"axis":{"values":[30,35,40,45,50,55,60],"grid":true,"gridColor":"#8a8a8a","gridDash":[2,1.5],"gridWidth":0.8,"gridOpacity":{"condition":{"test":"datum.value===30||datum.value===60","value":0},"value":1},"domain":false,"ticks":false,"labelPadding":2,"labelFontSize":13,"labelFont":"Liberation Sans","labelColor":"#111","labelOverlap":false,"labelFlush":false,"minExtent":17,"maxExtent":17,"title":null}},
    "color":{"field":"t","type":"nominal","scale":{"domain":["賃貸","売買"],"range":["#1a1a1a","#999999"]},"legend":null}},
   "layer":[
    {"transform":[{"filter":{"field":"p","oneOf":["25IV","26I"]}}],"mark":{"type":"line","strokeWidth":2.6,"strokeDash":[4,2.5]}},
    {"transform":[{"filter":{"and":[{"field":"p","equal":"26I"},{"field":"t","equal":"賃貸"}]}}],"mark":{"type":"point","shape":"circle","size":65,"filled":false,"fill":"white","opacity":1,"strokeWidth":1.2}},
    {"transform":[{"filter":{"and":[{"field":"p","equal":"26I"},{"field":"t","equal":"売買"}]}}],"mark":{"type":"point","shape":"square","size":100,"filled":false,"fill":"white","opacity":1,"strokeWidth":1.2}},
    {"transform":[{"filter":{"field":"p","equal":"26I"}}],"mark":{"type":"point","shape":"M-1,0L-2.6,-0.7L-2.6,0.7Z","size":90,"filled":true,"opacity":1}},
    {"transform":[{"filter":{"and":[{"field":"t","equal":"売買"},{"field":"p","oneOf":["24IV","25I","25II","25III","25IV"]}]}}],"mark":{"type":"line","strokeWidth":3.8}},
    {"transform":[{"filter":{"and":[{"field":"t","equal":"売買"},{"field":"p","oneOf":["24IV","25I","25II","25III","25IV"]}]}}],"mark":{"type":"point","shape":"square","size":120,"filled":true,"opacity":1}},
    {"transform":[{"filter":{"and":[{"field":"t","equal":"賃貸"},{"field":"p","oneOf":["24IV","25I","25II","25III","25IV"]}]}}],"mark":{"type":"line","strokeWidth":3.5}},
    {"transform":[{"filter":{"and":[{"field":"t","equal":"賃貸"},{"field":"p","oneOf":["24IV","25I","25II","25III","25IV"]}]}}],"mark":{"type":"point","shape":"circle","size":80,"filled":true,"opacity":1}}
   ]},
  {"width":210,"height":55,"view":{"stroke":null},
   "layer":[
    {"data":{"name":"h"},"mark":{"type":"rect","fill":"#d6d6d6","stroke":"#222","strokeWidth":0.8},"encoding":{"x":{"field":"c","type":"nominal","scale":{"type":"band","domain":["h","24IV","25I","25II","25III","25IV","26I"],"range":[-17,210],"paddingInner":0,"paddingOuter":0},"axis":null},"y":{"field":"w","type":"nominal","scale":{"type":"band","domain":["h","賃貸","売買"],"paddingInner":0,"paddingOuter":0},"axis":null}}},
    {"data":{"name":"h"},"mark":{"type":"text","font":"'Liberation Sans', 'Noto Sans CJK JP', sans-serif","fontSize":13.5,"color":"#333"},"encoding":{"x":{"field":"c","type":"nominal","axis":null},"y":{"field":"w","type":"nominal","axis":null},"text":{"field":"lab"}}},
    {"data":{"name":"d"},"transform":[{"filter":{"field":"r","equal":"広島県"}}],"mark":{"type":"rect","fill":"white","stroke":"#222","strokeWidth":0.8},"encoding":{"x":{"field":"p","type":"nominal","axis":null},"y":{"field":"t","type":"nominal","axis":null}}},
    {"data":{"name":"d"},"transform":[{"filter":{"and":[{"field":"r","equal":"広島県"},{"not":{"field":"p","equal":"25IV"}}]}}],"mark":{"type":"text","font":"Liberation Sans","fontSize":13.5,"color":"#111"},"encoding":{"x":{"field":"p","type":"nominal","axis":null},"y":{"field":"t","type":"nominal","axis":null},"text":{"field":"v","type":"quantitative","format":".1f"}}},
    {"data":{"name":"d"},"transform":[{"filter":{"and":[{"field":"r","equal":"広島県"},{"field":"p","equal":"25IV"}]}}],"mark":{"type":"text","font":"Liberation Sans","fontSize":13.5,"fontWeight":"bold","color":"#111"},"encoding":{"x":{"field":"p","type":"nominal","axis":null},"y":{"field":"t","type":"nominal","axis":null},"text":{"field":"v","type":"quantitative","format":".1f"}}},
    {"data":{"name":"h"},"transform":[{"filter":{"field":"c","equal":"25IV"}}],"mark":{"type":"rect","fill":"white","fillOpacity":0,"stroke":"#111","strokeWidth":2.4},"encoding":{"x":{"field":"c","type":"nominal","axis":null}}}
   ]}
 ]},
 {"spacing":5,"vconcat":[
  {"title":{"text":"福岡県","anchor":"start","font":"Noto Sans CJK JP","fontSize":12,"fontWeight":"bold","color":"#111","offset":3},
   "width":210,"height":113,"data":{"name":"d"},"transform":[{"filter":{"field":"r","equal":"福岡県"}}],
   "encoding":{"x":{"field":"p","type":"ordinal","scale":{"type":"point","domain":["24IV","25I","25II","25III","25IV","26I"],"padding":0.5},"axis":null},
    "y":{"field":"v","type":"quantitative","scale":{"domain":[30,60],"nice":false,"zero":false},"axis":{"values":[30,35,40,45,50,55,60],"grid":true,"gridColor":"#8a8a8a","gridDash":[2,1.5],"gridWidth":0.8,"gridOpacity":{"condition":{"test":"datum.value===30||datum.value===60","value":0},"value":1},"domain":false,"ticks":false,"labelPadding":2,"labelFontSize":13,"labelFont":"Liberation Sans","labelColor":"#111","labelOverlap":false,"labelFlush":false,"minExtent":17,"maxExtent":17,"title":null}},
    "color":{"field":"t","type":"nominal","scale":{"domain":["賃貸","売買"],"range":["#1a1a1a","#999999"]},"legend":null}},
   "layer":[
    {"transform":[{"filter":{"field":"p","oneOf":["25IV","26I"]}}],"mark":{"type":"line","strokeWidth":2.6,"strokeDash":[4,2.5]}},
    {"transform":[{"filter":{"and":[{"field":"p","equal":"26I"},{"field":"t","equal":"賃貸"}]}}],"mark":{"type":"point","shape":"circle","size":65,"filled":false,"fill":"white","opacity":1,"strokeWidth":1.2}},
    {"transform":[{"filter":{"and":[{"field":"p","equal":"26I"},{"field":"t","equal":"売買"}]}}],"mark":{"type":"point","shape":"square","size":100,"filled":false,"fill":"white","opacity":1,"strokeWidth":1.2}},
    {"transform":[{"filter":{"field":"p","equal":"26I"}}],"mark":{"type":"point","shape":"M-1,0L-2.6,-0.7L-2.6,0.7Z","size":90,"filled":true,"opacity":1}},
    {"transform":[{"filter":{"and":[{"field":"t","equal":"売買"},{"field":"p","oneOf":["24IV","25I","25II","25III","25IV"]}]}}],"mark":{"type":"line","strokeWidth":3.8}},
    {"transform":[{"filter":{"and":[{"field":"t","equal":"売買"},{"field":"p","oneOf":["24IV","25I","25II","25III","25IV"]}]}}],"mark":{"type":"point","shape":"square","size":120,"filled":true,"opacity":1}},
    {"transform":[{"filter":{"and":[{"field":"t","equal":"賃貸"},{"field":"p","oneOf":["24IV","25I","25II","25III","25IV"]}]}}],"mark":{"type":"line","strokeWidth":3.5}},
    {"transform":[{"filter":{"and":[{"field":"t","equal":"賃貸"},{"field":"p","oneOf":["24IV","25I","25II","25III","25IV"]}]}}],"mark":{"type":"point","shape":"circle","size":80,"filled":true,"opacity":1}}
   ]},
  {"width":210,"height":55,"view":{"stroke":null},
   "layer":[
    {"data":{"name":"h"},"mark":{"type":"rect","fill":"#d6d6d6","stroke":"#222","strokeWidth":0.8},"encoding":{"x":{"field":"c","type":"nominal","scale":{"type":"band","domain":["h","24IV","25I","25II","25III","25IV","26I"],"range":[-17,210],"paddingInner":0,"paddingOuter":0},"axis":null},"y":{"field":"w","type":"nominal","scale":{"type":"band","domain":["h","賃貸","売買"],"paddingInner":0,"paddingOuter":0},"axis":null}}},
    {"data":{"name":"h"},"mark":{"type":"text","font":"'Liberation Sans', 'Noto Sans CJK JP', sans-serif","fontSize":13.5,"color":"#333"},"encoding":{"x":{"field":"c","type":"nominal","axis":null},"y":{"field":"w","type":"nominal","axis":null},"text":{"field":"lab"}}},
    {"data":{"name":"d"},"transform":[{"filter":{"field":"r","equal":"福岡県"}}],"mark":{"type":"rect","fill":"white","stroke":"#222","strokeWidth":0.8},"encoding":{"x":{"field":"p","type":"nominal","axis":null},"y":{"field":"t","type":"nominal","axis":null}}},
    {"data":{"name":"d"},"transform":[{"filter":{"and":[{"field":"r","equal":"福岡県"},{"not":{"field":"p","equal":"25IV"}}]}}],"mark":{"type":"text","font":"Liberation Sans","fontSize":13.5,"color":"#111"},"encoding":{"x":{"field":"p","type":"nominal","axis":null},"y":{"field":"t","type":"nominal","axis":null},"text":{"field":"v","type":"quantitative","format":".1f"}}},
    {"data":{"name":"d"},"transform":[{"filter":{"and":[{"field":"r","equal":"福岡県"},{"field":"p","equal":"25IV"}]}}],"mark":{"type":"text","font":"Liberation Sans","fontSize":13.5,"fontWeight":"bold","color":"#111"},"encoding":{"x":{"field":"p","type":"nominal","axis":null},"y":{"field":"t","type":"nominal","axis":null},"text":{"field":"v","type":"quantitative","format":".1f"}}},
    {"data":{"name":"h"},"transform":[{"filter":{"field":"c","equal":"25IV"}}],"mark":{"type":"rect","fill":"white","fillOpacity":0,"stroke":"#111","strokeWidth":2.4},"encoding":{"x":{"field":"c","type":"nominal","axis":null}}}
   ]}
 ]}
 ]}
]}
]}
]
}
